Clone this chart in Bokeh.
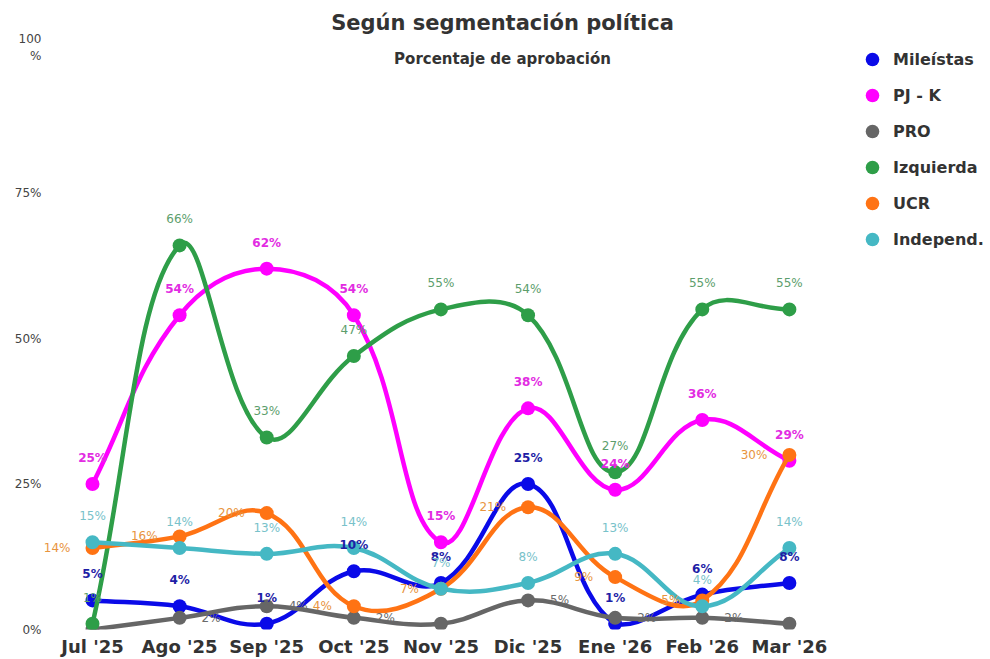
import math
from bokeh.plotting import figure
from bokeh.models import FixedTicker, Legend, LegendItem, Label, ColumnDataSource, Range1d
from bokeh.core.properties import value
from bokeh.embed import file_html
from bokeh.resources import INLINE

# ---------------- data ----------------
months = ["Jul '25", "Ago '25", "Sep '25", "Oct '25", "Nov '25",
          "Dic '25", "Ene '26", "Feb '26", "Mar '26"]
mileistas = [5, 4, 1, 10, 8, 25, 1, 6, 8]
pj_k = [25, 54, 62, 54, 15, 38, 24, 36, 29]
pro = [0, 2, 4, 2, 1, 5, 2, 2, 1]
izquierda = [1, 66, 33, 47, 55, 54, 27, 55, 55]
ucr = [14, 16, 20, 4, 7, 21, 9, 5, 30]
independ = [15, 14, 13, 14, 7, 8, 13, 4, 14]
pro_label_shown = [False, True, True, True, False, True, True, True, False]

y_ticks = [0, 25, 50, 75, 100]
y_tick_labels = ["0%", "25%", "50%", "75%", "100\n%"]

title_text = "Según segmentación política"
subtitle_text = "Porcentaje de aprobación"

FONT = "DejaVu Sans"

series = [
    # name, values, line colour, label colour, bold label, label placement
    ("Mileístas", mileistas, "#0a0ae8", "#1e1ea6", True, "above"),
    ("PJ - K", pj_k, "#ff00ff", "#e22ce2", True, "above"),
    ("PRO", pro, "#666666", "#6a6a6a", False, "right"),
    ("Izquierda", izquierda, "#2e9e48", "#5c9e6c", False, "above"),
    ("UCR", ucr, "#ff7314", "#e8943e", False, "left"),
    ("Independ.", independ, "#45b8c4", "#78c2ca", False, "above"),
]

# ---------------- layout ----------------
W, H = 990, 659
B_LEFT, B_RIGHT, B_TOP, B_BOTTOM = 42, 0, 0, 30
frame_w = W - B_LEFT - B_RIGHT
frame_h = H - B_TOP - B_BOTTOM
CAT_PX = 784 / len(months)          # width of one category in px
X0_PX = 50                          # px from frame left to the first category
TOP100_PX = 47                      # px from frame top down to the 100% line
PCT_PX = (frame_h - TOP100_PX) / 100
x_start = -X0_PX / CAT_PX
x_end = x_start + frame_w / CAT_PX
y_end = 100 * frame_h / (frame_h - TOP100_PX)

p = figure(width=W, height=H, output_backend="svg", toolbar_location=None,
           x_range=Range1d(x_start, x_end), y_range=Range1d(0, y_end),
           min_border_left=B_LEFT, min_border_right=B_RIGHT,
           min_border_top=B_TOP, min_border_bottom=B_BOTTOM,
           background_fill_color="white", border_fill_color="white")
p.outline_line_color = None
p.grid.visible = False

xa = p.xaxis[0]
xa.ticker = FixedTicker(ticks=list(range(len(months))))
xa.major_label_overrides = {i: m for i, m in enumerate(months)}
xa.axis_line_color = None
xa.major_tick_line_color = None
xa.minor_tick_line_color = None
xa.major_tick_out = 0
xa.major_tick_in = 0
xa.minor_tick_out = 0
xa.minor_tick_in = 0
xa.major_label_standoff = 6
xa.major_label_text_font = FONT
xa.major_label_text_font_size = "18px"
xa.major_label_text_font_style = "bold"
xa.major_label_text_color = "#333333"

ya = p.yaxis[0]
ya.ticker = FixedTicker(ticks=y_ticks)
ya.major_label_overrides = {t: l for t, l in zip(y_ticks, y_tick_labels)}
ya.axis_line_color = None
ya.major_tick_line_color = None
ya.minor_tick_line_color = None
ya.major_tick_out = 0
ya.major_tick_in = 0
ya.minor_tick_out = 0
ya.minor_tick_in = 0
ya.major_label_standoff = 1
ya.major_label_text_font = FONT
ya.major_label_text_font_size = "12px"
ya.major_label_text_color = "#444444"


def spline_segments(xs, ys, tension=0.4):
    """Bezier control points of a tension spline (distances measured in px)."""
    n = len(xs)
    prev_c, next_c = [], []
    for i in range(n):
        a = i - 1 if i > 0 else i
        b = i + 1 if i < n - 1 else i
        d01 = math.hypot((xs[i] - xs[a]) * CAT_PX, (ys[i] - ys[a]) * PCT_PX)
        d12 = math.hypot((xs[b] - xs[i]) * CAT_PX, (ys[b] - ys[i]) * PCT_PX)
        tot = d01 + d12
        s01 = d01 / tot if tot else 0
        s12 = d12 / tot if tot else 0
        fa, fb = tension * s01, tension * s12
        dx, dy = xs[b] - xs[a], ys[b] - ys[a]
        pcx, pcy = xs[i] - fa * dx, ys[i] - fa * dy
        ncx, ncy = xs[i] + fb * dx, ys[i] + fb * dy
        # keep control points inside the plot area
        pcy = min(max(pcy, 0), 100)
        ncy = min(max(ncy, 0), 100)
        prev_c.append((pcx, pcy))
        next_c.append((ncx, ncy))
    seg = dict(x0=[], y0=[], x1=[], y1=[], cx0=[], cy0=[], cx1=[], cy1=[])
    for i in range(1, n):
        seg["x0"].append(xs[i - 1]); seg["y0"].append(ys[i - 1])
        seg["x1"].append(xs[i]); seg["y1"].append(ys[i])
        seg["cx0"].append(next_c[i - 1][0]); seg["cy0"].append(next_c[i - 1][1])
        seg["cx1"].append(prev_c[i][0]); seg["cy1"].append(prev_c[i][1])
    return seg


xs = list(range(len(months)))
legend_items = []
label_sources = []
for name, vals, col, lcol, bold, place in series:
    seg = ColumnDataSource(spline_segments(xs, vals))
    p.bezier(x0="x0", y0="y0", x1="x1", y1="y1", cx0="cx0", cy0="cy0",
             cx1="cx1", cy1="cy1", source=seg, line_color=col,
             line_width=4.5, line_cap="round")
    r = p.scatter(xs, vals, size=14, marker="circle", fill_color=col,
                  line_color=col, line_width=0)
    legend_items.append(LegendItem(label=name, renderers=[r]))

    if place == "right":
        lx = [x for x, s in zip(xs, pro_label_shown) if s]
        lv = [v for v, s in zip(vals, pro_label_shown) if s]
    else:
        lx, lv = xs, vals
    src = ColumnDataSource(dict(x=lx, y=lv, t=[f"{v}%" for v in lv]))
    label_sources.append((src, lcol, bold, place))

for src, lcol, bold, place in label_sources:
    if place == "above":
        kw = dict(x_offset=0, y_offset=-26, text_align="center")
    elif place == "right":
        kw = dict(x_offset=22, y_offset=0, text_align="left")
    else:
        kw = dict(x_offset=-22, y_offset=0, text_align="right")
    p.text(x="x", y="y", text="t", source=src, text_color=lcol,
           text_font=value(FONT), text_font_size="12px",
           text_font_style="bold" if bold else "normal",
           text_baseline="middle", **kw)

# titles, centred over the chart (page x = 502)
title_cx = x_start + (502 - B_LEFT) / CAT_PX
p.add_layout(Label(x=title_cx, y=y_end, y_offset=-22, text=title_text,
                   text_font=FONT, text_font_size="21px",
                   text_font_style="bold", text_color="#333333",
                   text_align="center", text_baseline="middle"))
p.add_layout(Label(x=title_cx, y=y_end, y_offset=-58, text=subtitle_text,
                   text_font=FONT, text_font_size="15px",
                   text_font_style="bold", text_color="#333333",
                   text_align="center", text_baseline="middle"))

# legend at the right, inside the (extended) frame
GLYPH = 34
legend_top = 59 - GLYPH // 2
legend_h = 6 * GLYPH + 5 * 2
legend = Legend(items=legend_items,
                location=(872 - GLYPH // 2 - B_LEFT, frame_h - (legend_top + legend_h)),
                orientation="vertical",
                glyph_width=GLYPH, glyph_height=GLYPH, label_height=20, spacing=2,
                label_standoff=4, padding=0, margin=0,
                border_line_color=None, background_fill_alpha=0,
                label_text_font=FONT, label_text_font_size="16px",
                label_text_font_style="bold", label_text_color="#333333")
p.add_layout(legend)

open("out.html", "w").write(file_html(p, INLINE))
